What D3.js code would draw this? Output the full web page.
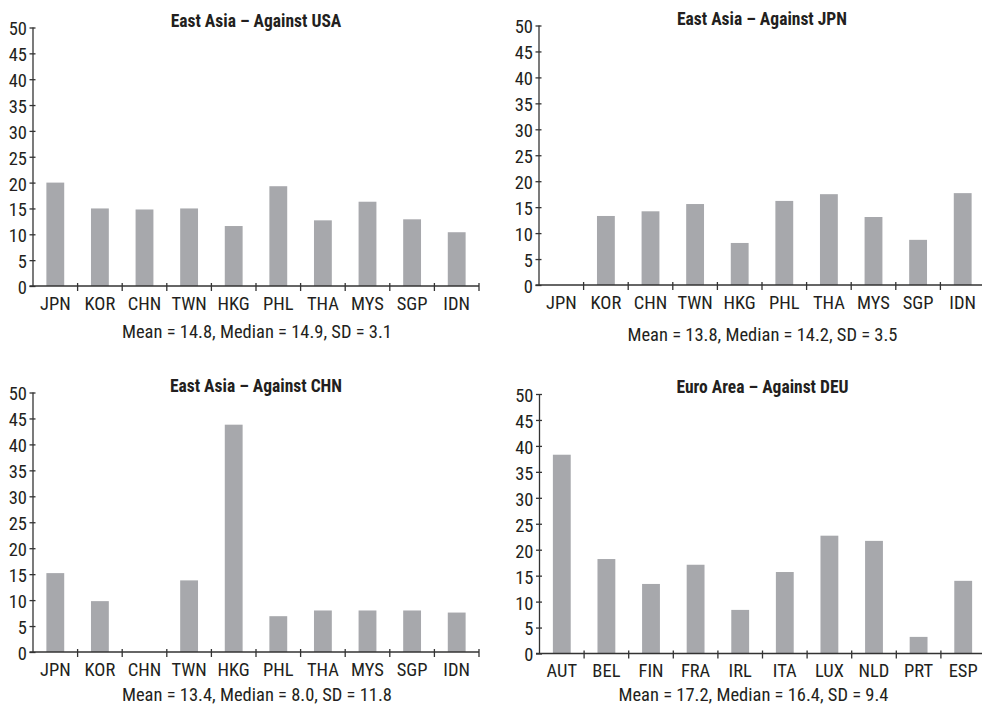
<!DOCTYPE html>
<html>
<head>
<meta charset="utf-8">
<script src="https://cdn.jsdelivr.net/npm/d3@7"></script>
<style>
  html, body { margin: 0; padding: 0; background: #fff; }
  svg { display: block; }
  text { font-family: "Roboto Condensed", "Liberation Sans Narrow", "Arial Narrow", sans-serif; fill: #231f20; }
</style>
</head>
<body>
<svg id="chart" width="982" height="704"></svg>
<script>
// Country groups on the category axis
const asiaCountries = ["JPN", "KOR", "CHN", "TWN", "HKG", "PHL", "THA", "MYS", "SGP", "IDN"];
const euroCountries = ["AUT", "BEL", "FIN", "FRA", "IRL", "ITA", "LUX", "NLD", "PRT", "ESP"];

// Values per panel (null = the reference country itself, no bar)
const againstUSA = [20.0, 15.0, 14.8, 15.0, 11.6, 19.3, 12.7, 16.3, 12.9, 10.4];
const againstJPN = [null, 13.3, 14.2, 15.6, 8.1, 16.2, 17.5, 13.1, 8.7, 17.7];
const againstCHN = [15.2, 9.8, null, 13.8, 43.8, 6.9, 8.0, 8.0, 8.0, 7.6];
const againstDEU = [38.3, 18.2, 13.4, 17.1, 8.4, 15.7, 22.7, 21.7, 3.2, 14.0];

// Panel titles and summary lines
const titles = [
  "East Asia \u2013 Against USA",
  "East Asia \u2013 Against JPN",
  "East Asia \u2013 Against CHN",
  "Euro Area \u2013 Against DEU"
];
const summaries = [
  "Mean = 14.8, Median = 14.9, SD = 3.1",
  "Mean = 13.8, Median = 14.2, SD = 3.5",
  "Mean = 13.4, Median = 8.0, SD = 11.8",
  "Mean = 17.2, Median = 16.4, SD = 9.4"
];

// Value axis ticks
const yTicks = [0, 5, 10, 15, 20, 25, 30, 35, 40, 45, 50];

// Panel frames: plot-area position and text placement
const layout = [
  { left: 33,    top: 27.5,  bottom: 286,   subDx: 1,   subDy: 52 },
  { left: 539,   top: 25.5,  bottom: 285,   subDx: 0.5, subDy: 56 },
  { left: 33,    top: 392.5, bottom: 652,   subDx: 1,   subDy: 48.5 },
  { left: 539.5, top: 394,   bottom: 653.5, subDx: -9,  subDy: 47 }
];

const plotWidth = 446;
const axisColor = "#333";
const barColor = "#a7a8ac";
const labelSize = 18.5;

const panels = [
  { cats: asiaCountries, vals: againstUSA },
  { cats: asiaCountries, vals: againstJPN },
  { cats: asiaCountries, vals: againstCHN },
  { cats: euroCountries, vals: againstDEU }
];

const svg = d3.select("#chart");

panels.forEach((p, i) => {
  const L = layout[i];
  const g = svg.append("g");

  const x = d3.scaleBand()
    .domain(p.cats)
    .range([L.left, L.left + plotWidth])
    .paddingInner(0.6)
    .paddingOuter(0.3);

  const y = d3.scaleLinear()
    .domain([0, 50])
    .range([L.bottom, L.top]);

  // bars
  g.selectAll("rect.bar")
    .data(p.cats.map((c, k) => ({ c, v: p.vals[k] })).filter(d => d.v != null))
    .join("rect")
    .attr("class", "bar")
    .attr("x", d => x(d.c))
    .attr("width", x.bandwidth())
    .attr("y", d => y(d.v))
    .attr("height", d => y(0) - y(d.v))
    .attr("fill", barColor);

  // y axis
  const yAxis = d3.axisLeft(y)
    .tickValues(yTicks)
    .tickSize(0)
    .tickPadding(6);
  const ya = g.append("g")
    .attr("transform", `translate(${L.left},0)`)
    .call(yAxis);
  ya.select(".domain").remove();
  ya.selectAll(".tick text")
    .attr("font-size", labelSize)
    .attr("font-family", null)
    .attr("dy", "0.4em");
  ya.selectAll(".tick").append("line")
    .attr("x1", -3.5).attr("x2", 2.5)
    .attr("stroke", axisColor).attr("stroke-width", 1.3);
  g.append("line")
    .attr("x1", L.left).attr("x2", L.left)
    .attr("y1", y(50)).attr("y2", y(0))
    .attr("stroke", axisColor).attr("stroke-width", 1.3);

  // x axis: baseline, band-boundary ticks, category labels
  g.append("line")
    .attr("x1", L.left - 3.5).attr("x2", L.left + plotWidth)
    .attr("y1", y(0)).attr("y2", y(0))
    .attr("stroke", axisColor).attr("stroke-width", 1.3);

  const step = x.step();
  const bounds = p.cats.map(c => x(c) + x.bandwidth() / 2 + step / 2);
  g.selectAll("line.xt")
    .data(bounds)
    .join("line")
    .attr("class", "xt")
    .attr("x1", d => d).attr("x2", d => d)
    .attr("y1", y(0) - 3).attr("y2", y(0) + 5)
    .attr("stroke", axisColor).attr("stroke-width", 1.3);

  g.selectAll("text.xl")
    .data(p.cats)
    .join("text")
    .attr("class", "xl")
    .attr("x", d => x(d) + x.bandwidth() / 2)
    .attr("y", y(0) + 23.5)
    .attr("text-anchor", "middle")
    .attr("font-size", labelSize)
    .text(d => d);

  // title
  g.append("text")
    .attr("x", L.left + plotWidth / 2)
    .attr("y", L.top - 1)
    .attr("text-anchor", "middle")
    .attr("font-size", 17.5)
    .attr("font-weight", "bold")
    .text(titles[i]);

  // summary statistics
  g.append("text")
    .attr("x", L.left + plotWidth / 2 + L.subDx)
    .attr("y", L.bottom + L.subDy)
    .attr("text-anchor", "middle")
    .attr("font-size", labelSize)
    .text(summaries[i]);
});
</script>
</body>
</html>
